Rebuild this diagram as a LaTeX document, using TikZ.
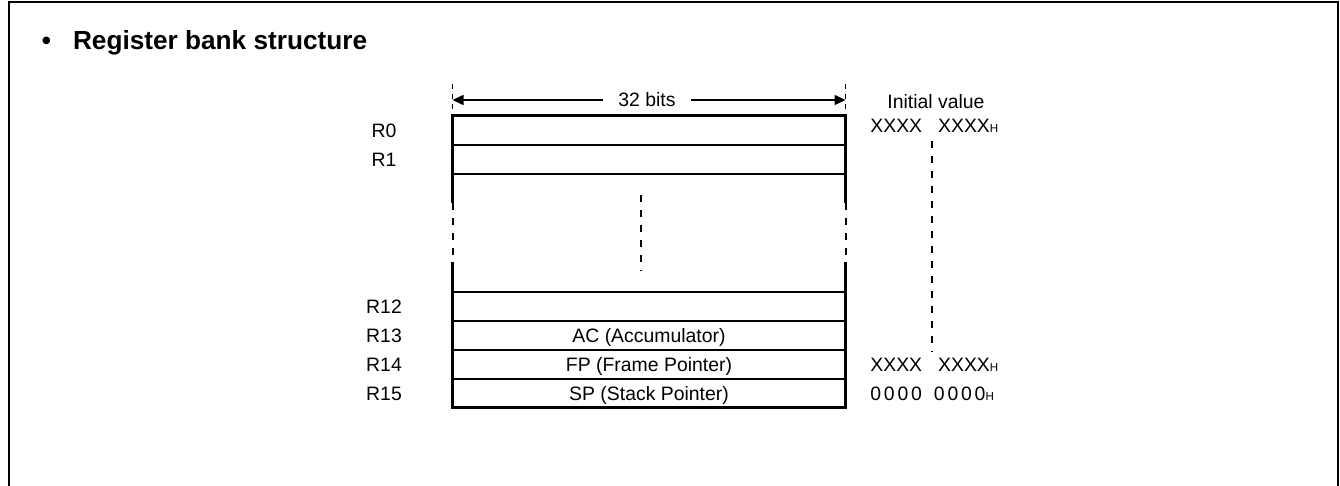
\documentclass[tikz,border=0pt]{standalone}
\usepackage{fontspec}
\setmainfont{Liberation Sans}
\usetikzlibrary{arrows.meta,positioning,calc}

\newcommand\hexh{{\fontsize{5.8}{6}\selectfont H}}

\begin{document}
\begin{tikzpicture}[
  x=0.5pt, y=-0.5pt,
  lbl/.style={font=\fontsize{9.7}{11.6}\selectfont, inner sep=0pt,
    text height=6.95pt, text depth=0pt},
  reg/.style={lbl, draw, line width=1pt, minimum width=196.5pt,
    minimum height=14.5pt, outer sep=0pt},
  wall/.style={line width=1.5pt},
  dots/.style={line width=1pt, dash pattern=on 3.5pt off 4pt},
  tick/.style={line width=0.8pt, dash pattern=on 2.5pt off 2.5pt},
  dim/.style={{Triangle[length=5.5pt,width=5pt]}-{Triangle[length=5.5pt,width=5pt]},
    line width=0.75pt}
]
  \useasboundingbox (0,0) rectangle (1340,486);
  \draw[line width=1pt] (9,486) |- (1338,2) -- (1338,486);

  \node[font=\fontsize{13.1}{15.7}\selectfont\bfseries, anchor=base west, inner sep=0pt]
    (title) at (41.5,50) {\textbullet\hspace{11pt}Register bank structure};

  % register rows
  \node[reg] (r0) at (649,130.5) {};
  \node[reg, below=0pt of r0] (r1) {};
  \node[reg] (r12) at (649,306.5) {};
  \node[reg, below=0pt of r12] (r13) {AC (Accumulator)};
  \node[reg, below=0pt of r13] (r14) {FP (Frame Pointer)};
  \node[reg, below=0pt of r14] (r15) {SP (Stack Pointer)};

  \draw[wall] ($(r1.south west)+(0,29)$) -- (r0.north west) -- (r0.north east)
    -- ($(r1.south east)+(0,29)$);
  \draw[wall] ($(r12.north west)+(0,-30)$) -- (r15.south west) -- (r15.south east)
    -- ($(r12.north east)+(0,-30)$);
  \draw[dots] ($(r1.south west)+(0,29)$) -- ($(r12.north west)+(0,-30)$);
  \draw[dots] ($(r1.south east)+(0,29)$) -- ($(r12.north east)+(0,-30)$);
  \draw[dots] (641,195) -- (641,271);

  % width
  \coordinate (dl) at ($(r0.north west)+(0,-16)$);
  \coordinate (dr) at ($(r0.north east)+(0,-16)$);
  \draw[tick] ($(r0.north west)+(0,-32)$) -- (r0.north west);
  \draw[tick] ($(r0.north east)+(0,-32)$) -- (r0.north east);
  \draw[dim] (dl) -- (dr);
  \node[lbl, fill=white, inner xsep=7.5pt] (bits) at (647,100) {32 bits};

  % register names
  \node[lbl] (n0) at ([xshift=-34.25pt]r0.west) {R0};
  \node[lbl] (n1) at ([xshift=-34.25pt]r1.west) {R1};
  \node[lbl] (n12) at ([xshift=-34.25pt]r12.west) {R12};
  \node[lbl] (n13) at ([xshift=-34.25pt]r13.west) {R13};
  \node[lbl] (n14) at ([xshift=-34.25pt]r14.west) {R14};
  \node[lbl] (n15) at ([xshift=-34.25pt]r15.west) {R15};

  % initial values
  \node[lbl] (init) at (936,102) {Initial value};
  \node[lbl, anchor=west] (v0) at (870,126) {XXXX\kern8pt XXXX\hexh};
  \node[lbl, right=12.25pt of r14] (v14) {XXXX\kern8pt XXXX\hexh};
  \node[lbl, right=12.25pt of r15] (v15)
    {0\kern1.4pt 0\kern1.4pt 0\kern1.4pt 0\kern6pt 0\kern1.4pt 0\kern1.4pt 0\kern1.4pt 0\hexh};
  \draw[dots] ($(v0.south west)+(62,8)$) -- ($(v14.north west)+(62,-5)$);
\end{tikzpicture}
\end{document}
